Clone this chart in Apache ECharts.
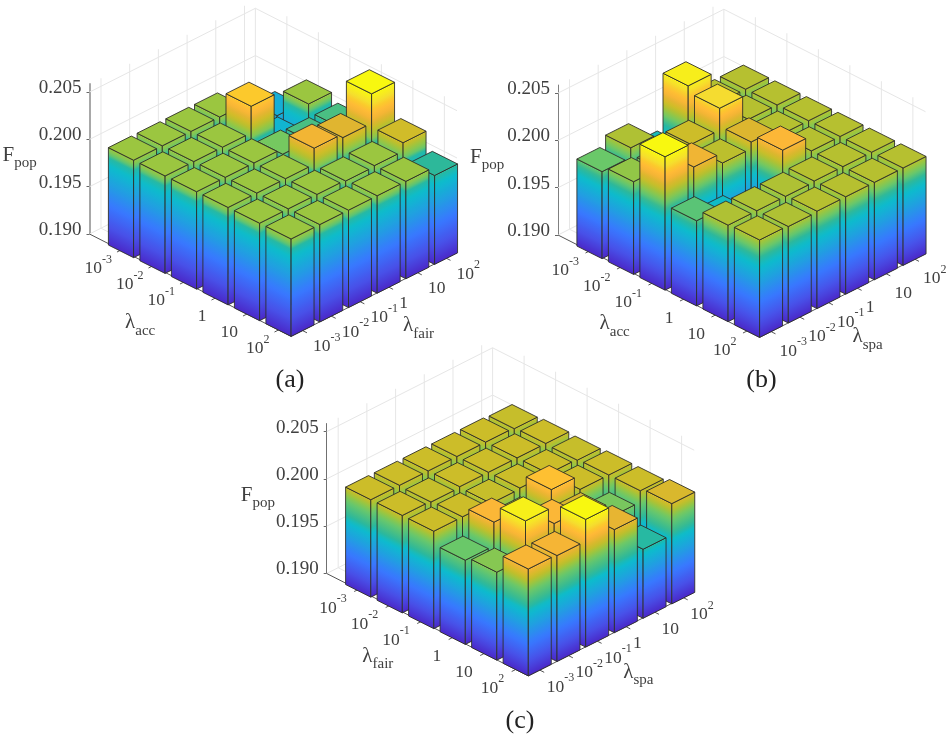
<!DOCTYPE html>
<html><head><meta charset="utf-8">
<style>html,body{margin:0;padding:0;background:#fff}#c{width:947px;height:735px}</style>
<script src="https://cdn.jsdelivr.net/npm/echarts@6/dist/echarts.min.js"></script>
</head><body><div id="c"></div>
<script>
// ---- data (rows: first-axis index, columns: second-axis index) ----
const tickLabels = [['10','-3'],['10','-2'],['10','-1'],['1',''],['10',''],['10','2']];
const zTicks = [0.190, 0.195, 0.200, 0.205];
const fPopA = [
 [0.2003,0.2003,0.2003,0.2003,0.1979,0.1974],
 [0.2003,0.2003,0.2003,0.2031,0.1979,0.2003],
 [0.2003,0.2003,0.2003,0.1997,0.1995,0.1995],
 [0.2003,0.2003,0.2003,0.2020,0.2016,0.2047],
 [0.2003,0.2003,0.2003,0.2002,0.2003,0.2012],
 [0.2003,0.2003,0.2003,0.2003,0.2003,0.1994]];
const fPopB = [
 [0.1992,0.2002,0.1979,0.2037,0.2003,0.2003],
 [0.1998,0.1995,0.2007,0.2030,0.2003,0.2003],
 [0.2041,0.2015,0.2004,0.2011,0.2003,0.2003],
 [0.1990,0.1976,0.1963,0.2019,0.2003,0.2003],
 [0.2002,0.2002,0.2002,0.2003,0.2003,0.2003],
 [0.2003,0.2002,0.2003,0.2003,0.2003,0.2003]];
const fPopC = [
 [0.2003,0.2003,0.2003,0.2003,0.2003,0.2002],
 [0.2003,0.2002,0.2003,0.2003,0.2003,0.2003],
 [0.2003,0.2003,0.2002,0.2003,0.2003,0.2002],
 [0.1989,0.2014,0.2000,0.2018,0.2003,0.2003],
 [0.1993,0.2032,0.2014,0.2006,0.1991,0.2003],
 [0.2013,0.2012,0.2035,0.2009,0.1973,0.2006]];

// ---- colour map: fraction of the panel's range -> colour ----
const cmapT = [0,0.12,0.27,0.42,0.54,0.60,0.65,0.70,0.73,0.76,0.79,0.82,0.85,0.89,0.92,1];
const cmapC = ['#4a28c8','#4850e8','#3878ff','#20a0e0','#0cbccc','#2db89a','#6cc868','#9ac640','#b9bf2e','#d0bd28','#e0b530','#f4b535','#ffb838','#fcc82c','#f5dc30','#f8f810'];
function hex(c){return [1,3,5].map(k=>parseInt(c.substr(k,2),16));}
function cmap(t){
  for(let k=1;k<cmapT.length;k++){ if(t<=cmapT[k]){
    const r=(t-cmapT[k-1])/(cmapT[k]-cmapT[k-1]),A=hex(cmapC[k-1]),B=hex(cmapC[k]);
    return 'rgb('+A.map((v,n)=>Math.round(v+(B[n]-v)*r)).join(',')+')';}}
  return cmapC[cmapC.length-1];
}
function warp(knots,t){
  for(let k=1;k<knots.length;k++){ if(t<=knots[k][0]){
    const r=(t-knots[k-1][0])/(knots[k][0]-knots[k-1][0]);
    return knots[k-1][1]+(knots[k][1]-knots[k-1][1])*r; }}
  return 1;
}

// ---- projection and layout ----
const ax=31.5, ay=16, fx=28.7, fy=14.5, pxPerZ=9460;   // floor frame
const barAy=15.75, barFy=14.4;                          // bar grid
const Z0=0.19, ZTOP=0.20585, H=(ZTOP-Z0)*pxPerZ;
const Umax=6.4, W0=0.6, Wmax=6.38, half=0.4;
const XMAX=Umax+(Wmax-W0)*fx/ax;
const SERIF='"Liberation Serif","Times New Roman",serif', INK='#404040';
const panels=[
 {m:fPopA,L:[89.5,234],name1:'acc',name2:'fair',cap:'(a)',capXY:[290,380],t1:[-166,-11],t2:[112,-8],zl:[-87,-76],axisW:2,axisC:'#a8a8a8',
  off1:[-9,15.5],off2:[10.5,13],warp:[[0,0],[0.568,0.54],[0.64,0.60],[0.655,0.655],[0.70,0.70],[1,1]]},
 {m:fPopB,L:[558,235],name1:'acc',name2:'spa',cap:'(b)',capXY:[761.5,380],t1:[-160,-11],t2:[93,2],zl:[-88,-75],axisW:1,axisC:'#808080',
  off1:[-10.5,16.5],off2:[8.5,16.5],warp:[[0,0],[0.53,0.54],[0.654,0.65],[1,1]]},
 {m:fPopC,L:[326.7,573.5],name1:'fair',name2:'spa',cap:'(c)',capXY:[520,721.5],t1:[-166,-17],t2:[95,-1],zl:[-86,-76],axisW:1,axisC:'#707070',
  off1:[-11.5,15.5],off2:[7,14],warp:[[0,0],[0.50,0.54],[0.549,0.60],[0.662,0.65],[1,1]]}];

function projector(api){
  return (U,W,z)=>api.coord([U+(W-W0)*fx/ax, z-(U*ay-(W-W0)*fy)/pxPerZ]);
}
function barProjector(api){
  return (U,W,z)=>api.coord([U+(W-W0)*fx/ax, z-(Umax*ay+(U-Umax)*barAy-(W-W0)*barFy)/pxPerZ]);
}
function line(p,q,color,width){
  return {type:'line',shape:{x1:p[0],y1:p[1],x2:q[0],y2:q[1]},style:{stroke:color,lineWidth:width,fill:null},silent:true};
}
function text(x,y,rich,str,align){
  return {type:'text',silent:true,style:{x:x,y:y,text:str,rich:rich,align:align,verticalAlign:'middle',fill:INK,fontFamily:SERIF}};
}
const tickRich={b:{fontSize:17.5,fontFamily:SERIF,fill:INK,lineHeight:24,verticalAlign:'bottom'},
                s:{fontSize:12,fontFamily:SERIF,fill:INK,lineHeight:24,verticalAlign:'top'}};
const nameRich={b:{fontSize:21,fontFamily:SERIF,fill:INK,lineHeight:26,verticalAlign:'top'},
                s:{fontSize:15,fontFamily:SERIF,fill:INK,lineHeight:26,verticalAlign:'bottom'}};
const capRich={b:{fontSize:26,fontFamily:SERIF,fill:'#222',lineHeight:30}};

function renderFrame(panel){
  return (params,api)=>{
    const P=projector(api), kids=[], G='#e6e6e6', T='#555';
    for(let k=1;k<=6;k++){
      kids.push(line(P(k,W0,Z0),P(k,Wmax,Z0),G,1));
      kids.push(line(P(0,k,Z0),P(Umax,k,Z0),G,1));
      kids.push(line(P(0,k,Z0),P(0,k,ZTOP),G,1));
      kids.push(line(P(k,Wmax,Z0),P(k,Wmax,ZTOP),G,1));
    }
    zTicks.forEach(z=>{
      kids.push(line(P(0,W0,z),P(0,Wmax,z),G,1));
      kids.push(line(P(0,Wmax,z),P(Umax,Wmax,z),G,1));
    });
    kids.push(line(P(0,Wmax,Z0),P(0,Wmax,0.205),G,1));
    kids.push(line(P(0,W0,Z0),P(Umax,W0,Z0),T,1));
    kids.push(line(P(Umax,W0,Z0),P(Umax,Wmax,Z0),T,1));
    tickLabels.forEach((lab,n)=>{
      const k=n+1, str='{b|'+lab[0]+'}'+(lab[1]?'{s|'+lab[1]+'}':'');
      const p=P(k,W0,Z0), q=P(Umax,k,Z0);
      kids.push(line(p,P(k,W0-0.14,Z0),T,1));
      kids.push(line(q,P(Umax+0.14,k,Z0),T,1));
      kids.push(text(p[0]+panel.off1[0],p[1]+panel.off1[1],tickRich,str,'right'));
      kids.push(text(q[0]+panel.off2[0],q[1]+panel.off2[1],tickRich,str,'left'));
    });
    const F=P(Umax,W0,Z0), L=P(0,W0,Z0);
    kids.push(text(F[0]+panel.t1[0],F[1]+panel.t1[1],nameRich,'{b|λ}{s|'+panel.name1+'}','left'));
    kids.push(text(F[0]+panel.t2[0],F[1]+panel.t2[1],nameRich,'{b|λ}{s|'+panel.name2+'}','left'));
    kids.push(text(L[0]+panel.zl[0],L[1]+panel.zl[1],nameRich,'{b|F}{s|pop}','left'));
    kids.push(text(panel.capXY[0],panel.capXY[1],capRich,'{b|'+panel.cap+'}','center'));
    return {type:'group',children:kids};
  };
}

function faceGradient(bottom,dir,height,vT,knots){
  const len=Math.hypot(dir[0],dir[1]), nx=dir[1]/len, ny=-dir[0]/len;
  const g=height*dir[0]/len, stops=[], N=28;
  for(let n=0;n<=N;n++){ stops.push({offset:n/N,color:cmap(warp(knots,vT*n/N))}); }
  return new echarts.graphic.LinearGradient(bottom[0],bottom[1],bottom[0]+nx*g,bottom[1]+ny*g,stops,true);
}
function renderBars(panel){
  const top=Math.max.apply(null,panel.m.map(r=>Math.max.apply(null,r)));
  return (params,api)=>{
    const P=barProjector(api), i=api.value(0), j=api.value(1), v=api.value(2);
    const U=i+1, W=j+1, vT=(v-Z0)/(top-Z0);
    const E='rgba(45,45,40,0.88)';
    const fb=P(U+half,W-half,Z0), lb=P(U-half,W-half,Z0), rb=P(U+half,W+half,Z0);
    const ft=P(U+half,W-half,v), lt=P(U-half,W-half,v), rt=P(U+half,W+half,v), bt=P(U-half,W+half,v);
    const h=fb[1]-ft[1];
    const poly=(pts,fill)=>({type:'polygon',silent:true,shape:{points:pts},style:{fill:fill,stroke:E,lineWidth:1,lineJoin:'round'}});
    return {type:'group',children:[
      poly([lb,fb,ft,lt],faceGradient(fb,[fb[0]-lb[0],fb[1]-lb[1]],h,vT,panel.warp)),
      poly([fb,rb,rt,ft],faceGradient(fb,[rb[0]-fb[0],rb[1]-fb[1]],h,vT,panel.warp)),
      poly([lt,ft,rt,bt],cmap(warp(panel.warp,vT)))
    ]};
  };
}

const grid=[],xAxis=[],yAxis=[],series=[];
panels.forEach((p,n)=>{
  grid.push({left:p.L[0],top:p.L[1]-H,width:XMAX*ax,height:H,containLabel:false});
  xAxis.push({gridIndex:n,type:'value',min:0,max:XMAX,show:false});
  yAxis.push({gridIndex:n,type:'value',min:Z0,max:ZTOP,position:'left',splitLine:{show:false},
    axisLine:{show:true,onZero:false,lineStyle:{color:p.axisC,width:p.axisW}},
    axisTick:{show:true,length:3,inside:false,customValues:zTicks,lineStyle:{color:'#666'}},
    axisLabel:{show:true,margin:8,customValues:zTicks,color:INK,fontFamily:SERIF,fontSize:19,
      verticalAlign:'bottom',lineHeight:8,formatter:v=>v.toFixed(3)}});
  series.push({type:'custom',coordinateSystem:'cartesian2d',xAxisIndex:n,yAxisIndex:n,z:1,silent:true,
    renderItem:renderFrame(p),data:[[0,Z0]],animation:false});
  const rows=[];
  for(let i=0;i<6;i++) for(let j=5;j>=0;j--) rows.push([i,j,p.m[i][j]]);
  series.push({type:'custom',coordinateSystem:'cartesian2d',xAxisIndex:n,yAxisIndex:n,z:2,silent:true,
    encode:{x:0,y:2},renderItem:renderBars(p),data:rows,animation:false});
});
const chart=echarts.init(document.getElementById('c'),null,{renderer:'canvas'});
chart.setOption({animation:false,backgroundColor:'#fff',grid,xAxis,yAxis,series});
</script></body></html>
